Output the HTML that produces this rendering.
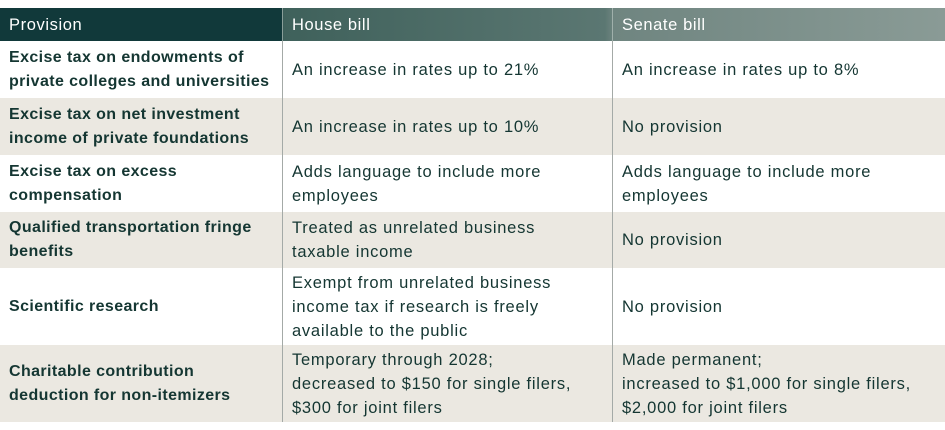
<!DOCTYPE html>
<html><head><meta charset="utf-8"><style>
body{margin:0;width:945px;height:430px;background:#fff;overflow:hidden;font-family:"Liberation Sans",sans-serif;color:#143632}
.t{position:absolute;left:0;top:8px;width:945px}
.h,.r{display:flex;position:absolute;left:0;width:945px}
.h{top:0;height:33px;background:linear-gradient(90deg,#11393a 0%,#11393a 29.8%,#3f615b 30%,#5b7772 64%,#6f8580 65%,#8a9b96 100%);color:#fff}
.c{box-sizing:border-box;padding:0 9px;display:flex;align-items:center;line-height:24px;font-size:16.5px;letter-spacing:0.75px;white-space:nowrap}
.c1{width:282px;font-weight:bold;font-size:16px;letter-spacing:0.4px}.c2{width:330px;border-left:1px solid #a4aaa7}.c3{width:333px;border-left:1px solid #a4aaa7}
.h .c{font-weight:normal;font-size:16.5px;letter-spacing:0.6px}
.b{background:#ebe8e1}
</style></head><body>
<div class="t">
<div class="h"><div class="c c1">Provision</div><div class="c c2" style="border-color:#8a9e99">House bill</div><div class="c c3" style="border-color:#a0b0ab">Senate bill</div></div>
<div class="r" style="top:33px;height:57px"><div class="c c1">Excise tax on endowments of<br>private colleges and universities</div><div class="c c2">An increase in rates up to 21%</div><div class="c c3">An increase in rates up to 8%</div></div>
<div class="r b" style="top:90px;height:57px"><div class="c c1">Excise tax on net investment<br>income of private foundations</div><div class="c c2">An increase in rates up to 10%</div><div class="c c3">No provision</div></div>
<div class="r" style="top:147px;height:57px"><div class="c c1">Excise tax on excess<br>compensation</div><div class="c c2">Adds language to include more<br>employees</div><div class="c c3">Adds language to include more<br>employees</div></div>
<div class="r b" style="top:204px;height:56px"><div class="c c1">Qualified transportation fringe<br>benefits</div><div class="c c2">Treated as unrelated business<br>taxable income</div><div class="c c3">No provision</div></div>
<div class="r" style="top:260px;height:77px"><div class="c c1">Scientific research</div><div class="c c2">Exempt from unrelated business<br>income tax if research is freely<br>available to the public</div><div class="c c3">No provision</div></div>
<div class="r b" style="top:337px;height:77px"><div class="c c1">Charitable contribution<br>deduction for non-itemizers</div><div class="c c2">Temporary through 2028;<br>decreased to $150 for single filers,<br>$300 for joint filers</div><div class="c c3">Made permanent;<br>increased to $1,000 for single filers,<br>$2,000 for joint filers</div></div>
</div>
</body></html>
